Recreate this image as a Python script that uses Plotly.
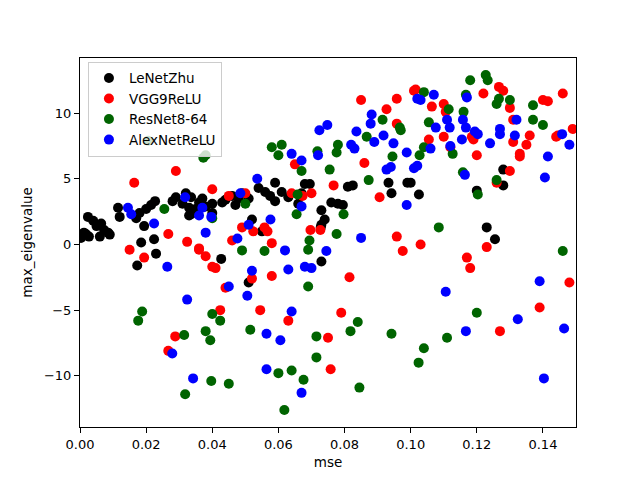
import plotly.graph_objects as go

lenet_x = [0.0003, 0.0012, 0.0018, 0.0024, 0.0027, 0.004, 0.005, 0.006, 0.0064, 0.0073,
           0.0085, 0.009, 0.0115, 0.012, 0.017, 0.018, 0.020, 0.0215, 0.0227, 0.0194,
           0.0185, 0.0224, 0.023, 0.0173, 0.029, 0.032, 0.0336, 0.037, 0.040, 0.043,
           0.046, 0.047, 0.033, 0.0336, 0.035, 0.033, 0.040, 0.028, 0.031, 0.036,
           0.038, 0.044, 0.048, 0.0427, 0.054, 0.056, 0.0575, 0.059, 0.051, 0.059,
           0.063, 0.068, 0.0695, 0.067, 0.066, 0.081, 0.0825, 0.076, 0.078, 0.0795,
           0.073, 0.074, 0.073, 0.0728, 0.052, 0.055, 0.0933, 0.0942, 0.099, 0.1,
           0.1025, 0.12, 0.128, 0.128, 0.123, 0.1255, 0.051, 0.073, 0.049, 0.061]
lenet_y = [0.5, 0.9, 0.8, 2.1, 0.6, 1.8, 1.4, 0.6, 1.6, 1.1,
           0.9, 0.75, 2.8, 2.1, 2.0, 2.4, 2.7, 3.0, 3.3, 1.4,
           0.15, 0.4, -0.7, -1.6, 3.6, 3.9, 3.6, 3.5, 3.1, 3.2,
           3.7, 3.0, 2.8, 2.3, 2.7, 2.2, 2.4, 3.3, 3.1, 3.2,
           2.9, 3.4, 3.5, -1.1, 4.3, 4.0, 3.7, 4.7, 3.5, 3.3,
           3.6, 4.6, 4.6, 3.9, 3.1, 4.4, 4.5, 3.2, 3.1, 3.0,
           2.6, 1.9, 1.5, 1.3, 1.9, 1.0, 4.7, 3.9, 4.7, 4.7,
           3.8, 4.1, 5.7, 4.5, 1.3, 0.4, -2.9, -1.3, 3.9, 4.0]

vgg_x = [0.029, 0.0164, 0.040, 0.0267, 0.0324, 0.045, 0.049, 0.046, 0.036, 0.015,
         0.0194, 0.036, 0.038, 0.040, 0.041, 0.044, 0.0424, 0.0288, 0.0267, 0.065,
         0.086, 0.0767, 0.070, 0.064, 0.0673, 0.050, 0.0906, 0.0524, 0.0558, 0.0567,
         0.058, 0.0697, 0.0727, 0.0958, 0.052, 0.058, 0.0815, 0.0976, 0.0545, 0.063,
         0.079, 0.075, 0.0758, 0.103, 0.123, 0.117, 0.118, 0.148, 0.139, 0.127,
         0.120, 0.133, 0.130, 0.126, 0.1015, 0.1064, 0.110, 0.1106, 0.122, 0.1267,
         0.128, 0.130, 0.131, 0.140, 0.1415, 0.146, 0.1445, 0.149, 0.1055, 0.110,
         0.1185, 0.119, 0.131, 0.135, 0.136, 0.144, 0.112, 0.133, 0.085, 0.0958,
         0.0927, 0.0958, 0.101]
vgg_y = [5.6, 4.7, 4.2, 0.8, 0.2, 3.7, 1.3, 0.3, -0.3, -0.4,
         -1.0, -0.4, -0.9, -1.7, -1.8, -3.3, -5.0, -7.0, -8.1, 6.1,
         6.2, 4.5, 3.9, 3.9, 3.7, 3.9, 3.6, 1.0, 1.3, 1.0,
         0.1, 1.1, 1.1, 0.6, -2.6, -2.4, -2.5, -0.5, -5.0, -5.8,
         -5.2, -7.1, -9.5, 0.0, -0.2, -1.0, -1.8, -2.9, -4.8, -6.6,
         6.8, 6.7, 5.6, 4.7, 11.8, 10.5, 10.7, 10.1, 11.5, 12.0,
         11.7, 10.4, 9.5, 11.0, 10.9, 11.5, 8.3, 8.8, 8.0, 8.2,
         8.2, 8.0, 7.8, 7.6, 8.3, 8.2, 7.4, 6.9, 11.0, 11.1,
         10.3, 9.2, 11.7]

resnet_x = [0.0206, 0.0373, 0.038, 0.0255, 0.040, 0.050, 0.058, 0.061, 0.0718, 0.078,
            0.0867, 0.0915, 0.0967, 0.097, 0.104, 0.118, 0.1227, 0.1233, 0.1267, 0.126,
            0.130, 0.1167, 0.1115, 0.116, 0.137, 0.137, 0.140, 0.1055, 0.104, 0.060,
            0.067, 0.0755, 0.0776, 0.0945, 0.0873, 0.0658, 0.0655, 0.0797, 0.0694, 0.0776,
            0.1027, 0.1127, 0.1158, 0.126, 0.1203, 0.1085, 0.049, 0.0188, 0.0176, 0.040,
            0.0424, 0.0315, 0.038, 0.0394, 0.0397, 0.045, 0.0318, 0.0558, 0.069, 0.069,
            0.0515, 0.0715, 0.084, 0.0818, 0.0942, 0.0715, 0.060, 0.064, 0.0676, 0.0618,
            0.0845, 0.146, 0.120, 0.111, 0.104, 0.1024]
resnet_y = [7.9, 6.6, 6.8, 2.7, 2.0, 3.1, 7.4, 7.6, 7.1, 7.6,
            8.2, 9.5, 8.9, 8.7, 11.6, 12.5, 12.9, 12.5, 11.1, 10.7,
            11.0, 11.4, 10.3, 10.1, 10.6, 9.5, 9.1, 9.3, 7.4, 6.8,
            5.6, 5.7, 7.0, 6.7, 4.9, 3.8, 2.3, 2.3, 0.3, 0.8,
            6.8, 6.9, 5.5, 4.9, 3.8, 1.3, -0.45, -5.1, -5.8, -5.3,
            -5.8, -6.9, -6.6, -7.3, -10.4, -10.6, -11.4, -0.5, -0.4, -3.2,
            -6.5, -7.0, -5.9, -6.6, -6.8, -8.6, -9.8, -9.6, -10.3, -12.6,
            -10.9, -0.5, -5.2, -7.1, -7.9, -9.0]

alex_x = [0.0145, 0.0155, 0.0224, 0.0318, 0.037, 0.036, 0.0397, 0.038, 0.0485, 0.0476,
          0.0536, 0.064, 0.067, 0.072, 0.067, 0.0576, 0.051, 0.085, 0.0927, 0.094,
          0.0988, 0.0724, 0.0748, 0.0836, 0.0882, 0.0879, 0.089, 0.0918, 0.0948, 0.0988,
          0.082, 0.083, 0.107, 0.102, 0.103, 0.117, 0.132, 0.1076, 0.111, 0.1118,
          0.1158, 0.1167, 0.1194, 0.1203, 0.127, 0.127, 0.1315, 0.1155, 0.124, 0.1458,
          0.148, 0.106, 0.112, 0.1415, 0.1406, 0.102, 0.101, 0.1164, 0.062, 0.0745,
          0.052, 0.063, 0.068, 0.070, 0.0506, 0.064, 0.0564, 0.0606, 0.0564, 0.067,
          0.0264, 0.0324, 0.045, 0.0279, 0.0342, 0.1106, 0.139, 0.1324, 0.1167, 0.1464,
          0.1403]
alex_y = [2.8, 2.3, 1.6, 3.6, 2.8, 2.2, 2.1, 0.9, 3.9, 0.45,
          5.0, 6.9, 6.4, 6.8, 2.9, 1.9, 1.5, 0.5, 5.7, 5.9,
          3.0, 8.7, 9.1, 8.6, 9.9, 9.2, 7.8, 8.3, 7.7, 7.0,
          7.6, 7.3, 11.4, 11.1, 11.0, 11.2, 9.5, 8.9, 9.5, 8.9,
          9.5, 8.9, 8.6, 8.4, 8.8, 8.4, 8.3, 8.0, 7.7, 8.4,
          7.6, 7.3, 7.5, 6.7, 5.1, 6.0, 5.8, 5.3, -0.45, -0.5,
          -2.0, -1.9, -1.7, -1.8, -3.9, -5.1, -6.8, -7.3, -9.5, -11.3,
          -1.7, -4.2, -3.2, -8.3, -10.2, -3.6, -2.8, -5.7, -6.6, -6.4,
          -10.2]

series = [
    ("LeNetZhu", lenet_x, lenet_y, "black"),
    ("VGG9ReLU", vgg_x, vgg_y, "red"),
    ("ResNet8-64", resnet_x, resnet_y, "darkgreen"),
    ("AlexNetReLU", alex_x, alex_y, "blue"),
]

fig = go.Figure()
for name, xs, ys, col in series:
    fig.add_trace(go.Scatter(x=xs, y=ys, mode="markers", name=name,
                             marker=dict(color=col, size=10, line=dict(width=0))))

axis_style = dict(showline=True, linecolor="black", linewidth=1, mirror=True,
                  ticks="outside", ticklen=5, tickcolor="black", showgrid=False,
                  zeroline=False, tickfont=dict(size=13, color="black"))

fig.update_layout(
    width=640, height=480,
    margin=dict(l=80, r=64, t=58, b=53),
    paper_bgcolor="white", plot_bgcolor="white",
    font=dict(family="DejaVu Sans", size=13, color="black"),
    showlegend=True,
    legend=dict(x=0.016, y=0.99, xanchor="left", yanchor="top",
                bgcolor="rgba(255,255,255,0.8)", bordercolor="#cccccc", borderwidth=1,
                font=dict(size=13.5)),
)
fig.update_xaxes(range=[0, 0.15], tickvals=[0, 0.02, 0.04, 0.06, 0.08, 0.10, 0.12, 0.14],
                 tickformat=".2f", title=dict(text="mse", standoff=6, font=dict(size=13.5)),
                 **axis_style)
fig.update_yaxes(range=[-13.9, 14.2], tickvals=[-10, -5, 0, 5, 10],
                 title=dict(text="max_eigenvalue", standoff=8, font=dict(size=13.5)),
                 **axis_style)

# drop the browser's default page margin so the figure sits at (0, 0)
fig.write_html("out.html", config={"displayModeBar": False},
               post_script="document.body.style.margin='0';")
